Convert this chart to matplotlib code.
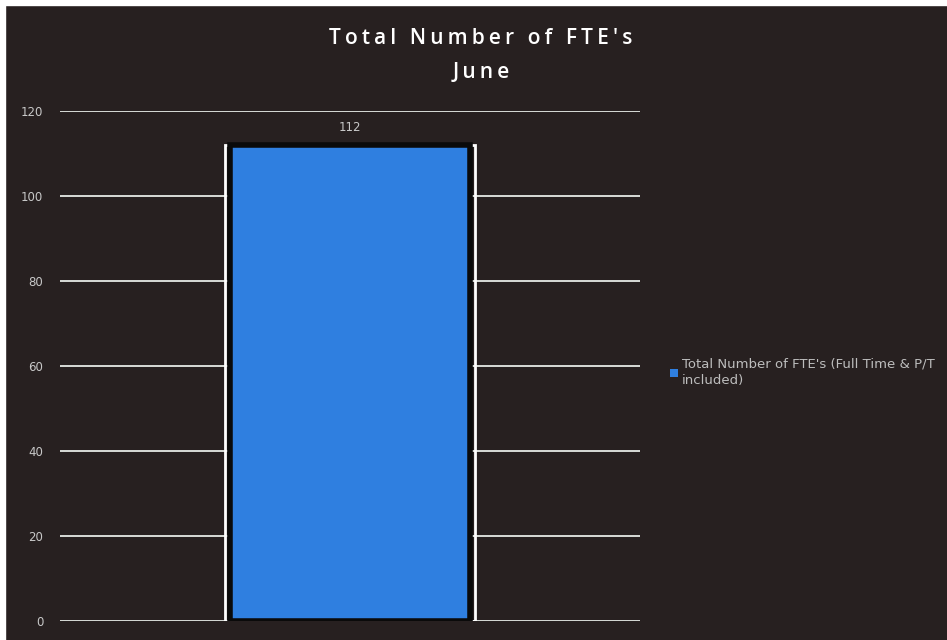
import matplotlib.pyplot as plt
from matplotlib.patches import Rectangle

categories = ['June']
fte_totals = [112]
yticks = [0, 20, 40, 60, 80, 100, 120]
series_label = "Total Number of FTE's (Full Time & P/T\nincluded)"
title_lines = ["Total Number of FTE's", "June"]

bg = '#272020'
bar_color = '#2f7fe0'
fig = plt.figure(figsize=(9.47, 6.4), dpi=100, facecolor=bg)
ax = fig.add_axes([0.0634, 0.0297, 0.6126, 0.797])
ax.set_facecolor(bg)

# grid lines behind the bar
for t in yticks:
    ax.axhline(t, color='#d8dcd8', lw=1.4, zorder=1)

x = range(len(categories))
# white outer outline, then black inner edge
ax.bar(x, fte_totals, width=0.43, color='none', edgecolor='white', lw=2.0, zorder=2)
bars = ax.bar(x, fte_totals, width=0.415, color=bar_color, edgecolor='#0a0a0a',
              lw=4, zorder=3)
for b, v in zip(bars, fte_totals):
    ax.text(b.get_x() + b.get_width() / 2, v + 2.5, str(v), ha='center', va='bottom',
            color='#c8c8c8', fontsize=8.5)

ax.set_xlim(-0.5, 0.5)
ax.set_ylim(0, 120)
ax.set_yticks(yticks)
ax.set_xticks([])
ax.tick_params(axis='y', length=0, colors='#c8c8c8', labelsize=8.5, pad=12)
for s in ax.spines.values():
    s.set_visible(False)

# letter-spaced title (thin spaces between characters)
for line, yy in zip(title_lines, [0.94, 0.887]):
    fig.text(0.508, yy, '\u2009'.join(line), ha='center', va='center', color='white',
             fontsize=15, fontweight='semibold', family=['Open Sans', 'DejaVu Sans'])

handle = Rectangle((0, 0), 1, 1, facecolor=bar_color, edgecolor='none')
leg = fig.legend(handles=[handle], labels=[series_label], loc='center left',
                 bbox_to_anchor=(0.695, 0.418), frameon=False, fontsize=9.5,
                 handlelength=0.6, handleheight=0.6, handletextpad=0.3)
for txt in leg.get_texts():
    txt.set_color('#bdbdbd')
    txt.set_linespacing(1.3)

# white strip along top and left edges of the scan
fig.patches.append(Rectangle((0, 0.992), 1, 0.008, transform=fig.transFigure,
                             color='white', zorder=0))
fig.patches.append(Rectangle((0, 0), 0.005, 1, transform=fig.transFigure,
                             color='white', zorder=0))

fig.savefig('out.png', dpi=100, facecolor=bg)
